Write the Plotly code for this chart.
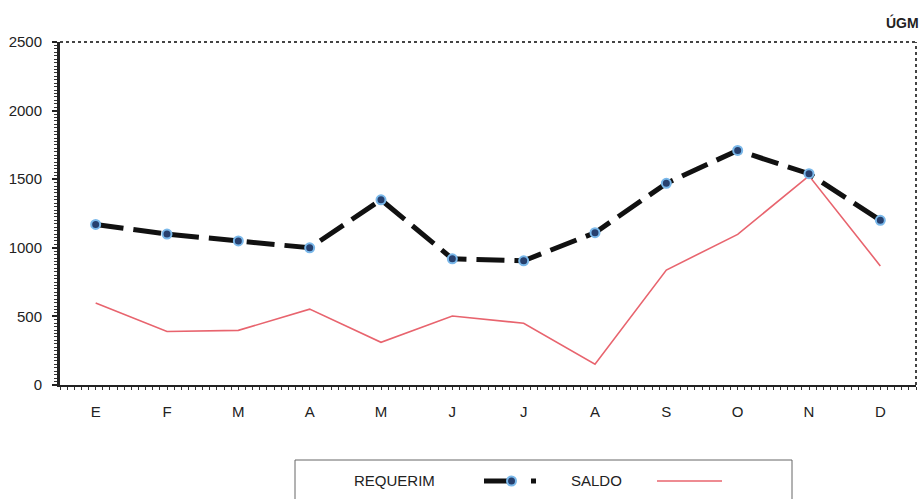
import plotly.graph_objects as go

months = ["E", "F", "M", "A", "M", "J", "J", "A", "S", "O", "N", "D"]
requerim = [1170, 1100, 1050, 1000, 1350, 920, 905, 1110, 1470, 1710, 1540, 1200]
saldo = [597, 390, 398, 553, 311, 503, 450, 151, 838, 1098, 1525, 868]
y_ticks = [0, 500, 1000, 1500, 2000, 2500]

idx = list(range(len(months)))
bounds = [i - 0.5 for i in range(len(months) + 1)]

FONT = "Liberation Sans, Arial, sans-serif"
TXT = "#222222"

L, R, T, B = 60, 7, 42, 114
W, H = 923, 499
PW, PH = W - L - R, H - T - B

fig = go.Figure()
fig.add_trace(go.Scatter(
    x=idx, y=saldo, name="SALDO", mode="lines",
    line=dict(color="#E8646E", width=1.6),
))
fig.add_trace(go.Scatter(
    x=idx, y=requerim, name="REQUERIM", mode="lines+markers",
    line=dict(color="#111111", width=5, dash="28px,10px"),
    marker=dict(symbol="circle", size=9, color="#27406e",
                line=dict(color="#7ab8ea", width=2)),
))

fig.update_layout(
    width=W, height=H,
    margin=dict(l=L, r=R, t=T, b=B),
    paper_bgcolor="white", plot_bgcolor="white",
    showlegend=False,
    font=dict(family=FONT, size=15, color=TXT),
    xaxis=dict(
        range=[-0.5, 11.5], tickmode="array", tickvals=idx, ticktext=months,
        ticks="", ticklabelstandoff=12, showgrid=False, zeroline=False,
        showline=True, linecolor="#222222", linewidth=2,
        minor=dict(tickmode="linear", tick0=-0.5, dtick=0.1, ticks="outside",
                   ticklen=3, tickcolor="#333333", tickwidth=1, showgrid=False),
        tickfont=dict(size=15),
    ),
    xaxis2=dict(
        range=[-0.5, 11.5], overlaying="x", anchor="y", side="bottom",
        tickmode="array", tickvals=bounds, ticks="outside", ticklen=6,
        tickwidth=1.5, tickcolor="#222222", showticklabels=False,
        showgrid=False, zeroline=False, showline=False,
    ),
    yaxis=dict(
        range=[0, 2500], tickmode="array", tickvals=y_ticks,
        ticks="outside", ticklen=5, tickwidth=1.5, tickcolor="#222222",
        ticklabelstandoff=7,
        showgrid=False, zeroline=False,
        showline=True, linecolor="#222222", linewidth=3,
        minor=dict(tickmode="linear", tick0=0, dtick=25, ticks="outside",
                   ticklen=3, tickcolor="#333333", tickwidth=1, showgrid=False),
        tickfont=dict(size=15),
    ),
)

# dotted frame on top and right
fig.add_shape(type="line", xref="paper", yref="paper", x0=0, x1=1, y0=1, y1=1,
              line=dict(color="#444444", width=2, dash="dot"))
fig.add_shape(type="line", xref="paper", yref="paper", x0=1, x1=1, y0=0, y1=1,
              line=dict(color="#444444", width=2, dash="dot"))

# custom legend box (text before symbol, as in the original)
def px_x(p):
    return (p - L) / float(PW)

def px_y(p):
    return (H - B - p) / float(PH)

fig.add_shape(type="rect", xref="paper", yref="paper",
              x0=px_x(295), x1=px_x(792), y0=px_y(460), y1=px_y(510),
              line=dict(color="#666666", width=1), fillcolor="white")
fig.add_annotation(xref="paper", yref="paper", x=px_x(394), y=px_y(480),
                   xanchor="center", yanchor="middle",
                   text="REQUERIM", showarrow=False, font=dict(size=15, color=TXT))
fig.add_annotation(xref="paper", yref="paper", x=px_x(596), y=px_y(480),
                   xanchor="center", yanchor="middle",
                   text="SALDO", showarrow=False, font=dict(size=15, color=TXT))
fig.add_shape(type="line", xref="paper", yref="paper",
              x0=px_x(484), x1=px_x(510), y0=px_y(481), y1=px_y(481),
              line=dict(color="#111111", width=5))
fig.add_shape(type="circle", xref="paper", yref="paper",
              x0=px_x(507), x1=px_x(516), y0=px_y(476.5), y1=px_y(485.5),
              line=dict(color="#7ab8ea", width=2), fillcolor="#27406e")
fig.add_shape(type="rect", xref="paper", yref="paper",
              x0=px_x(531), x1=px_x(536), y0=px_y(478.5), y1=px_y(483.5),
              line=dict(width=0), fillcolor="#111111")
fig.add_shape(type="line", xref="paper", yref="paper",
              x0=px_x(657), x1=px_x(722), y0=px_y(481), y1=px_y(481),
              line=dict(color="#E8646E", width=1.6))

fig.add_annotation(xref="paper", yref="paper", x=px_x(921), y=px_y(22),
                   xanchor="right", yanchor="middle",
                   text="<b>ÚGM</b>", showarrow=False, font=dict(size=14, color=TXT))

# remove the default 8px body margin so the figure sits at the page origin
fig.write_html("out.html", config={"displayModeBar": False},
               post_script="document.body.style.margin='0';")
